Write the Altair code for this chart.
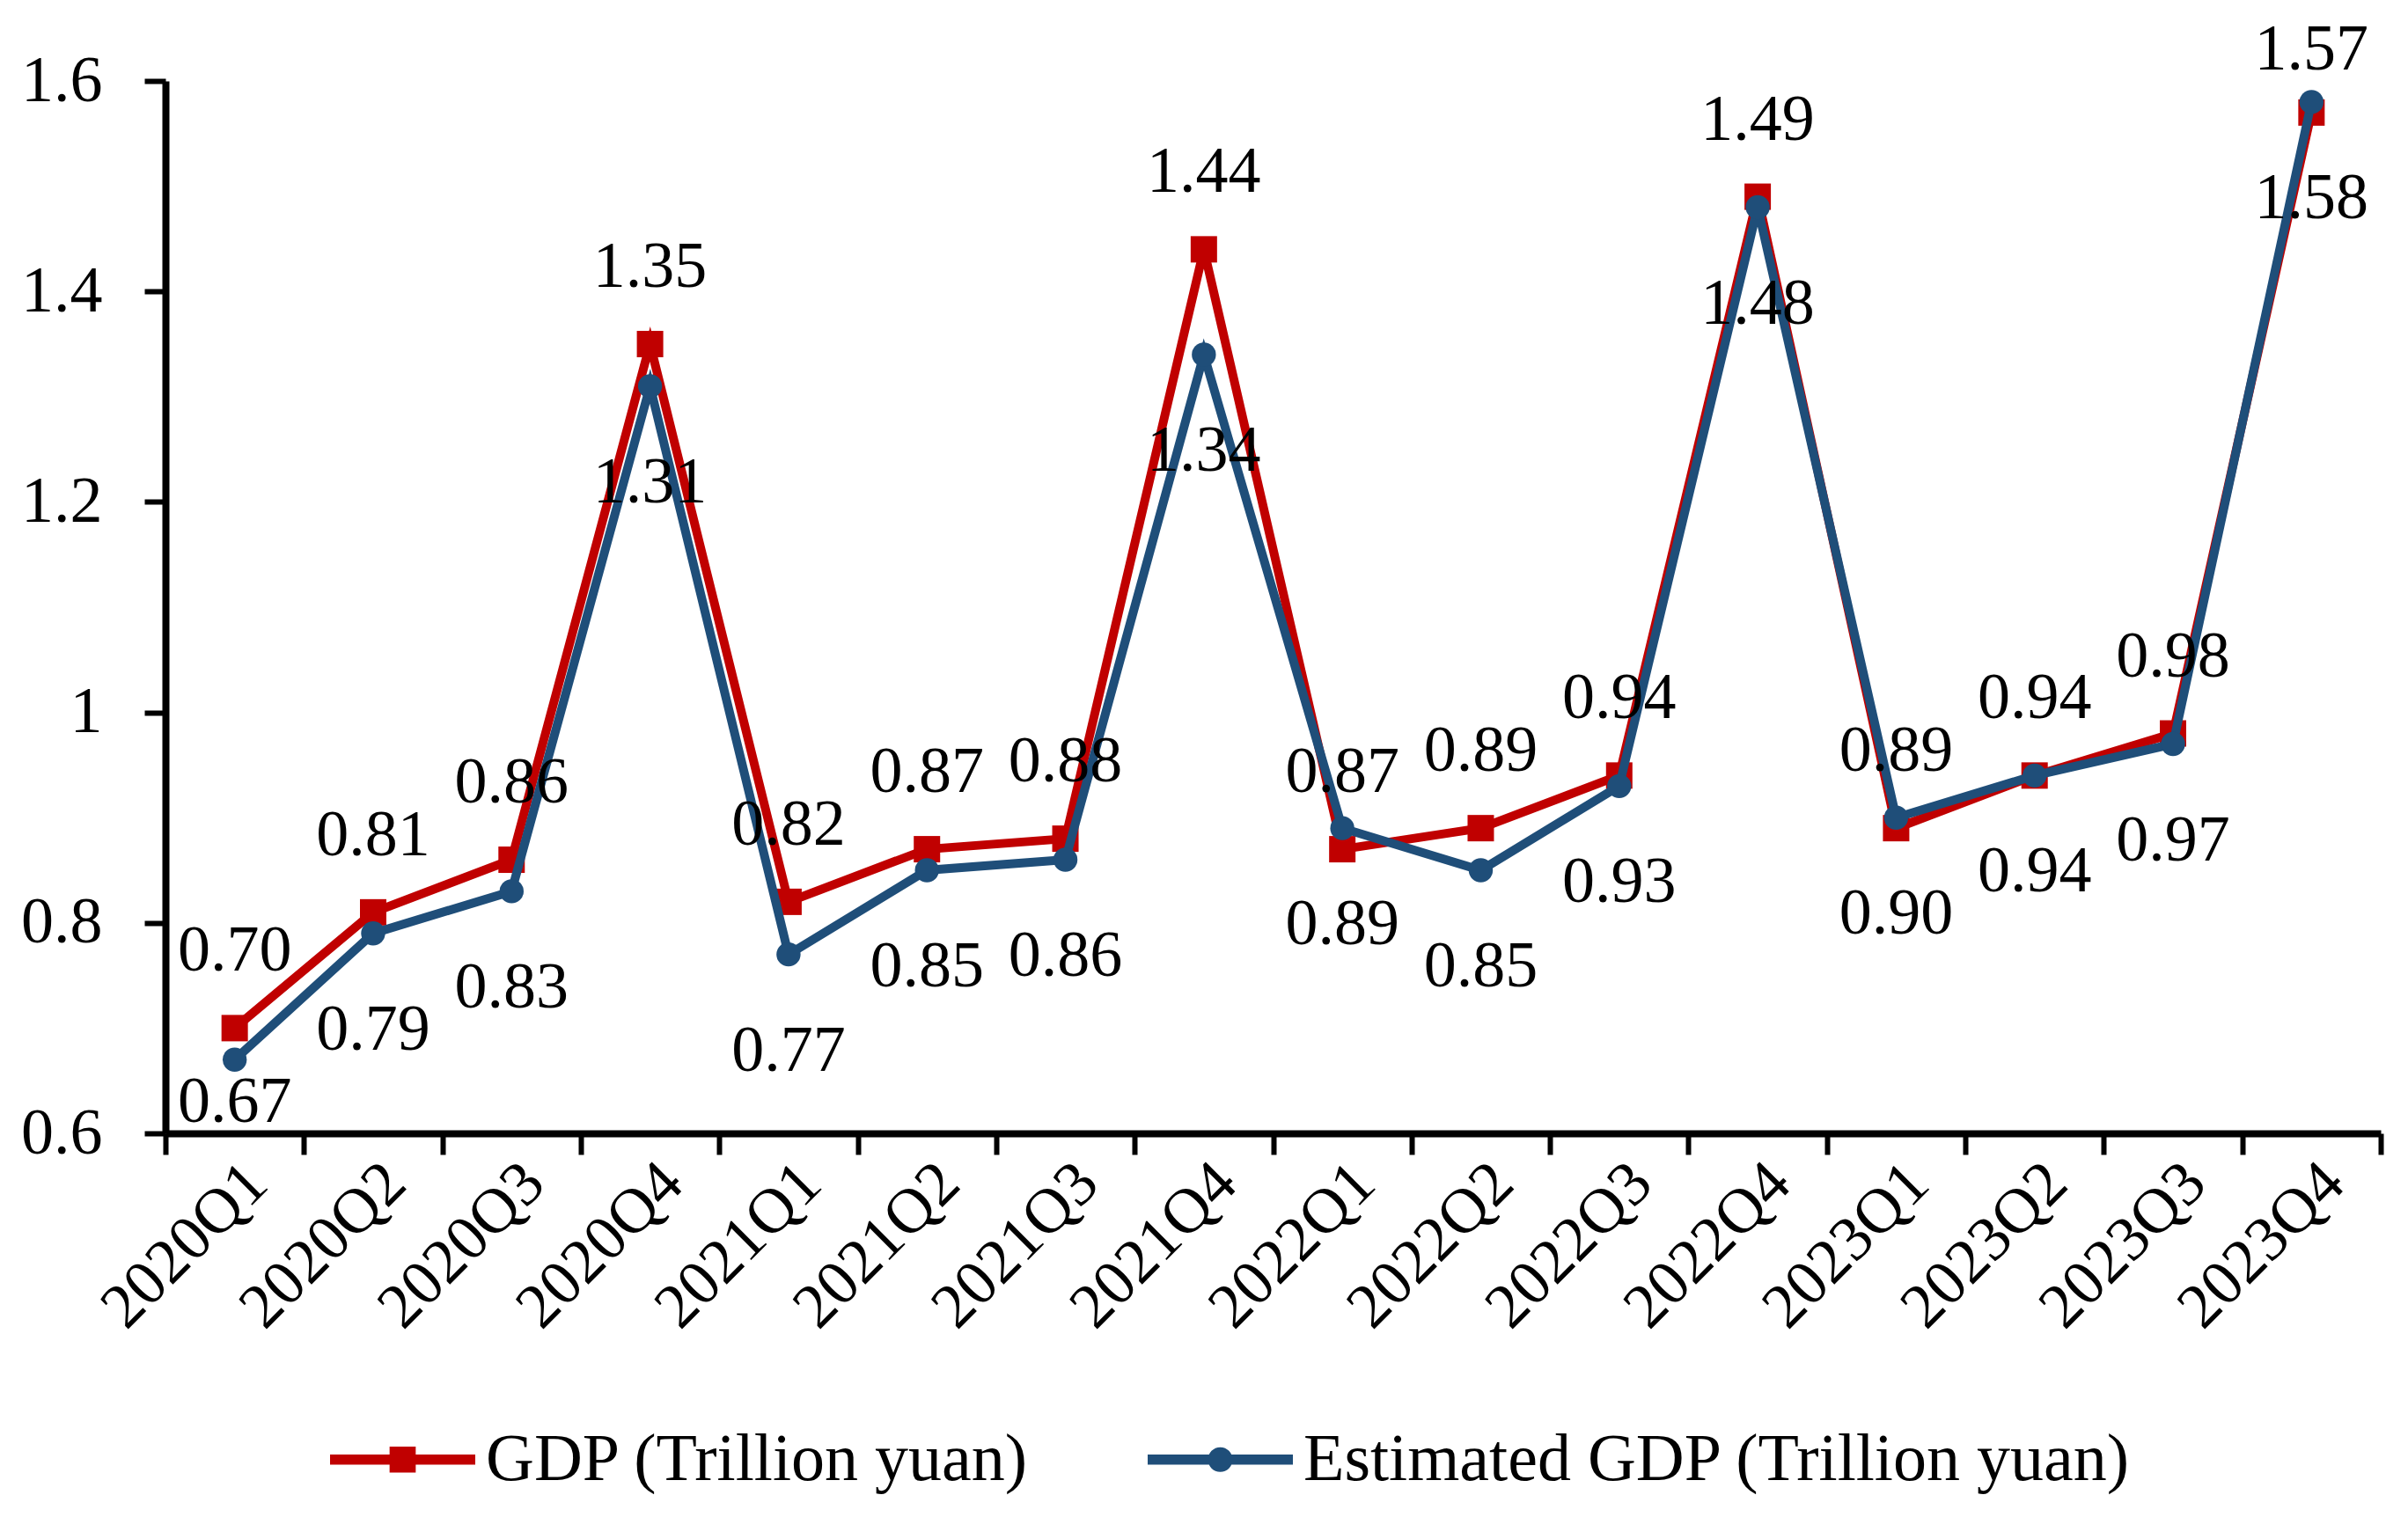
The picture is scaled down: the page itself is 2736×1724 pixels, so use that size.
import altair as alt
import pandas as pd

quarters = ["2020Q1", "2020Q2", "2020Q3", "2020Q4",
            "2021Q1", "2021Q2", "2021Q3", "2021Q4",
            "2022Q1", "2022Q2", "2022Q3", "2022Q4",
            "2023Q1", "2023Q2", "2023Q3", "2023Q4"]
gdp = [0.70, 0.81, 0.86, 1.35, 0.82, 0.87, 0.88, 1.44,
       0.87, 0.89, 0.94, 1.49, 0.89, 0.94, 0.98, 1.57]
est = [0.67, 0.79, 0.83, 1.31, 0.77, 0.85, 0.86, 1.34,
       0.89, 0.85, 0.93, 1.48, 0.90, 0.94, 0.97, 1.58]
series_names = ["GDP (Trillion yuan)", "Estimated GDP (Trillion yuan)"]
y_ticks = [0.6, 0.8, 1.0, 1.2, 1.4, 1.6]

RED = "#C00000"
BLUE = "#1F4E79"
FONT = "Liberation Serif"

rows = []
for name, vals in zip(series_names, [gdp, est]):
    for q, v in zip(quarters, vals):
        rows.append({"quarter": q, "series": name, "value": v, "label": f"{v:.2f}"})
df = pd.DataFrame(rows)

x_enc = alt.X(
    "quarter:N", sort=quarters, bandPosition=0.5,
    scale=alt.Scale(type="band", paddingInner=0, paddingOuter=0),
    axis=alt.Axis(title=None, labelAngle=-45, tickBand="extent", grid=False,
                  labelFont=FONT, labelFontSize=72, labelColor="black",
                  labelLimit=1000, labelOverlap=False,
                  labelPadding=-4, tickSize=24, tickWidth=6, tickColor="black",
                  domainColor="black", domainWidth=8),
)
y_scale = alt.Scale(domain=[0.6, 1.6], nice=False, zero=False)
y_axis = alt.Axis(title=None, values=y_ticks, grid=False,
                  labelExpr="format(datum.value, '~g')",
                  labelFont=FONT, labelFontSize=74, labelColor="black",
                  labelPadding=48, tickSize=24, tickWidth=6, tickColor="black",
                  domainColor="black", domainWidth=8)

base = alt.Chart(df).encode(x=x_enc)

gdp_f = alt.datum.series == series_names[0]
est_f = alt.datum.series == series_names[1]

line_gdp = base.transform_filter(gdp_f).mark_line(color=RED, strokeWidth=10).encode(
    y=alt.Y("value:Q", scale=y_scale, axis=y_axis))
pts_gdp = base.transform_filter(gdp_f).mark_square(color=RED, size=900, opacity=1).encode(
    y=alt.Y("value:Q", scale=y_scale))
line_est = base.transform_filter(est_f).mark_line(color=BLUE, strokeWidth=10).encode(
    y=alt.Y("value:Q", scale=y_scale))
pts_est = base.transform_filter(est_f).mark_circle(color=BLUE, size=750, opacity=1).encode(
    y=alt.Y("value:Q", scale=y_scale))

txt_gdp = base.transform_filter(gdp_f).transform_calculate(
    ly="min(datum.value + 0.0727, 1.629)"
).mark_text(font=FONT, fontSize=74, color="black", baseline="middle", align="center").encode(
    y=alt.Y("ly:Q", scale=y_scale), text="label:N")
txt_est = base.transform_filter(est_f).transform_calculate(
    ly="max(datum.value - 0.092, 0.629)"
).mark_text(font=FONT, fontSize=74, color="black", baseline="middle", align="center").encode(
    y=alt.Y("ly:Q", scale=y_scale), text="label:N")

sq_path = ("M-1,-0.07 H1 V0.07 H-1 Z "
           "M-0.18,-0.18 H0.18 V0.18 H-0.18 Z")
ci_path = ("M-1,-0.07 H1 V0.07 H-1 Z "
           "M0.17,0 A0.17,0.17 0 1,1 -0.17,0 A0.17,0.17 0 1,1 0.17,0 Z")

leg = alt.Legend(title=None, orient="none", direction="horizontal",
                 legendX=187, legendY=1484,
                 labelFont=FONT, labelFontSize=76, labelColor="black",
                 labelLimit=3000, labelOffset=12, columnPadding=134,
                 symbolSize=27225, symbolStrokeWidth=0, symbolOpacity=1)

legend_layer = base.transform_filter("false").mark_point(filled=True).encode(
    y=alt.Y("value:Q", scale=y_scale),
    color=alt.Color("series:N", scale=alt.Scale(domain=series_names, range=[RED, BLUE]), legend=leg),
    shape=alt.Shape("series:N", scale=alt.Scale(domain=series_names, range=[sq_path, ci_path]), legend=leg),
)

chart = alt.layer(line_gdp, pts_gdp, line_est, pts_est, txt_gdp, txt_est, legend_layer).properties(
    width=2517, height=1196,
    autosize=alt.AutoSizeParams(type="none"),
    padding={"left": 180, "top": 84, "right": 20, "bottom": 428},
    background="white",
).configure_view(strokeWidth=0)

chart.save("out.html", embed_options={"renderer": "svg", "actions": False})
